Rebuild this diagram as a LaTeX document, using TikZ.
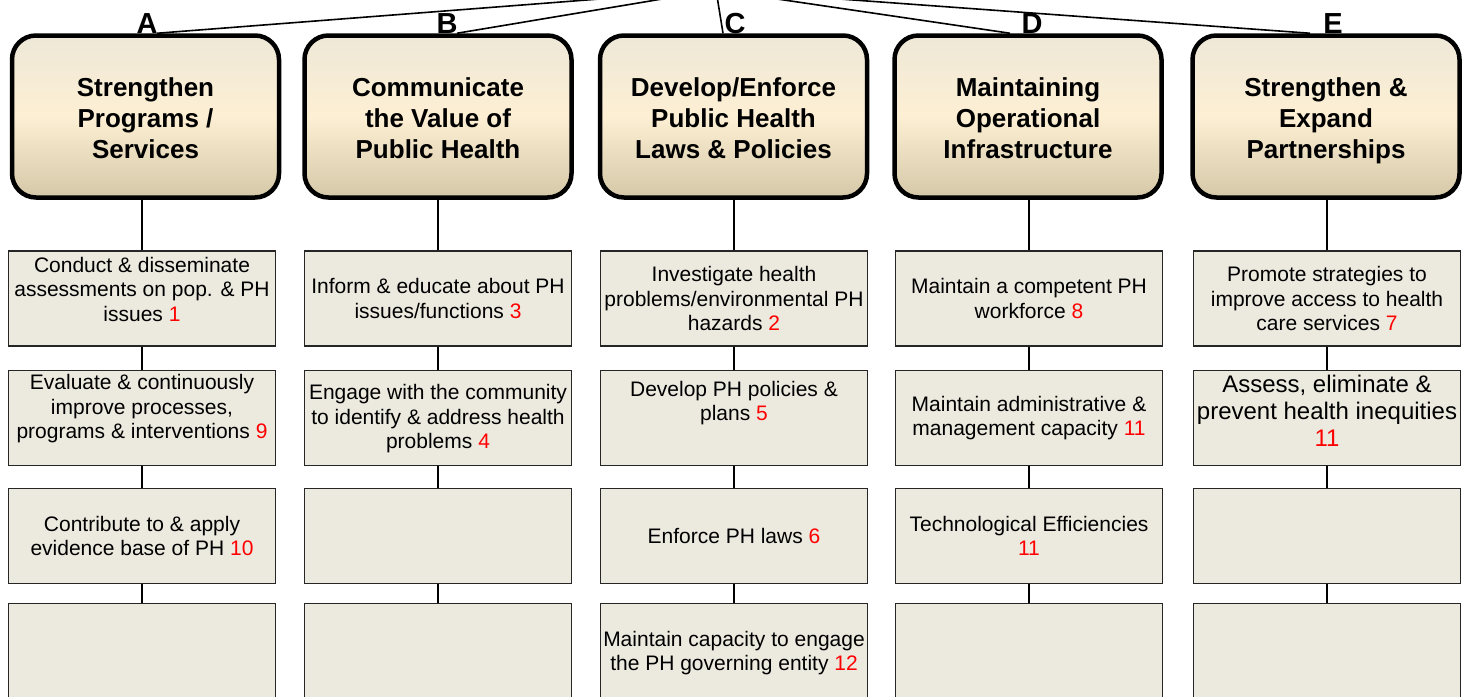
\documentclass[tikz,border=0pt]{standalone}
\usepackage{fontspec}
\setmainfont{Liberation Sans}
\usetikzlibrary{calc}
\definecolor{boxfill}{HTML}{ECE9DF}
\definecolor{hTop}{HTML}{EEE8D8}
\definecolor{hMid}{HTML}{FDEFD3}
\definecolor{hBot}{HTML}{D5C8A8}
\definecolor{numred}{HTML}{FF0000}
\newcommand{\nr}[1]{\textcolor{numred}{#1}}
\newcommand{\descph}{\vphantom{p}}
\begin{document}
\begin{tikzpicture}[x=1pt,y=-1pt,
  hdr/.style={draw=black, line width=4.5pt, rounded corners=24pt,
    top color=hTop, bottom color=hBot, middle color=hMid,
    minimum width=267pt, minimum height=162pt, inner sep=0pt},
  hdrtext/.style={align=center, inner sep=0pt,
    font=\fontsize{26}{31}\selectfont\bfseries},
  letter/.style={font=\fontsize{29}{34}\selectfont\bfseries, anchor=base, inner sep=0pt},
  itembox/.style={draw=black!85, line width=1.3pt, fill=boxfill,
    minimum width=267pt, minimum height=95pt, inner sep=0pt},
  lastbox/.style={itembox, minimum height=120pt, anchor=north},
  itemtext/.style={align=center, inner sep=0pt, font=\fontsize{21}{24.5}\selectfont},
  bigtext/.style={align=center, inner sep=0pt, font=\fontsize{24}{27}\selectfont},
  conn/.style={line width=1.8pt, draw=black},
  toplink/.style={line width=1.6pt, draw=black}
]
\path[use as bounding box] (0,0) rectangle (1469,696);
\clip (0,0) rectangle (1469,696);

% header boxes
\node[hdr] (hA) at (145.5,116.5) {};
\node[hdr] (hB) at (438,116.5) {};
\node[hdr] (hC) at (733.5,116.5) {};
\node[hdr] (hD) at (1028,116.5) {};
\node[hdr] (hE) at (1326,116.5) {};
\node[hdrtext] (thA) at ([yshift=-4.5pt]hA.center) {Strengthen\\Programs /\\Services\descph};
\node[hdrtext] (thB) at ([yshift=-4.5pt]hB.center) {Communicate\\the Value of\\Public Health\descph};
\node[hdrtext] (thC) at ([yshift=-4.5pt]hC.center) {Develop/Enforce\\Public Health\\Laws \& Policies\descph};
\node[hdrtext] (thD) at ([yshift=-4.5pt]hD.center) {Maintaining\\Operational\\Infrastructure\descph};
\node[hdrtext] (thE) at ([yshift=-4.5pt]hE.center) {Strengthen \&\\Expand\\Partnerships\descph};

% root above the picture
\coordinate (root) at (716,-10);
\draw[toplink] (root) -- ([xshift=11.5pt]hA.north);
\draw[toplink] (root) -- ([xshift=19pt]hB.north);
\draw[toplink] (root) -- ([xshift=-10.5pt]hC.north);
\draw[toplink] (root) -- ([xshift=-18pt]hD.north);
\draw[toplink] (root) -- ([xshift=-16pt]hE.north);

% letters
\node[letter] (lA) at (147,33) {A};
\node[letter] (lB) at (447,33) {B};
\node[letter] (lC) at (735,33) {C};
\node[letter] (lD) at (1032,33) {D};
\node[letter] (lE) at (1333,33) {E};

% item boxes
\foreach \c/\x in {a/142,b/438,c/734,d/1029,e/1327}{
  \node[itembox] (\c1) at (\x,298.5) {};
  \node[itembox] (\c2) at (\x,418) {};
  \node[itembox] (\c3) at (\x,536) {};
  \node[lastbox] (\c4) at (\x,603) {};
}

% connectors
\foreach \c/\h in {a/hA,b/hB,c/hC,d/hD,e/hE}{
  \draw[conn] (\c1.north |- \h.south) -- (\c1.north);
  \draw[conn] (\c1.south) -- (\c2.north);
  \draw[conn] (\c2.south) -- (\c3.north);
  \draw[conn] (\c3.south) -- (\c4.north);
}

% texts
\node[itemtext] (ta1) at ([yshift=9.5pt]a1.center) {Conduct \& disseminate\\assessments on pop. \& PH\\issues \nr{1}};
\node[itemtext] (ta2) at ([yshift=9pt]a2.center) {Evaluate \& continuously\\improve processes,\\programs \& interventions \nr{9}};
\node[itemtext] (ta3) at (a3.center) {Contribute to \& apply\\evidence base of PH \nr{10}};
\node[itemtext] (tb1) at (b1.center) {Inform \& educate about PH\\issues/functions \nr{3}};
\node[itemtext] (tb2) at ([yshift=-1pt]b2.center) {Engage with the community\\to identify \& address health\\problems \nr{4}};
\node[itemtext] (tc1) at (c1.center) {Investigate health\\problems/environmental PH\\hazards \nr{2}};
\node[itemtext] (tc2) at ([yshift=15pt]c2.center) {Develop PH policies \&\\plans \nr{5}};
\node[itemtext] (tc3) at (c3.center) {Enforce PH laws \nr{6}};
\node[itemtext] (tc4) at ($(c4.north)+(0,50)$) {Maintain capacity to engage\\the PH governing entity \nr{12}};
\node[itemtext] (td1) at (d1.center) {Maintain a competent PH\\workforce \nr{8}};
\node[itemtext] (td2) at (d2.center) {Maintain administrative \&\\management capacity \nr{11}};
\node[itemtext] (td3) at (d3.center) {Technological Efficiencies\\\nr{11}};
\node[itemtext] (te1) at (e1.center) {Promote strategies to\\improve access to health\\care services \nr{7}};
\node[bigtext] (te2) at ([yshift=7pt]e2.center) {Assess, eliminate \&\\prevent health inequities\\\nr{11}};
\end{tikzpicture}
\end{document}
